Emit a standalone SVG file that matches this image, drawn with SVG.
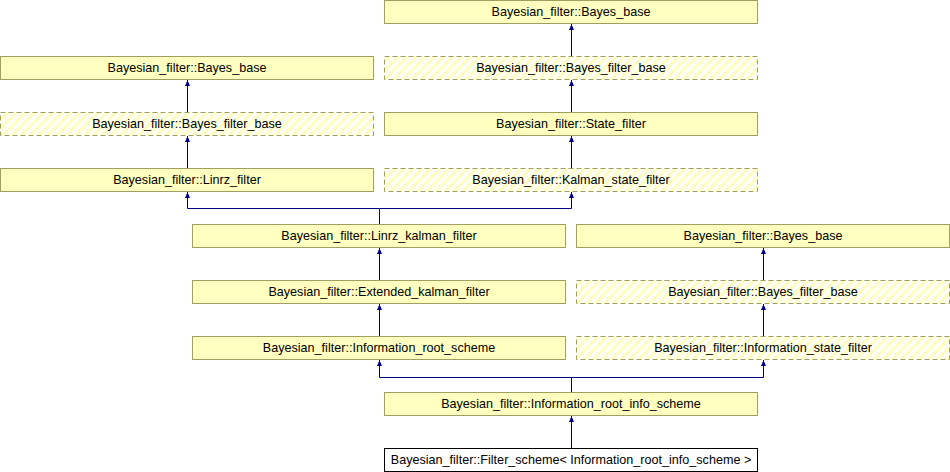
<svg xmlns="http://www.w3.org/2000/svg" width="950" height="472" viewBox="0 0 950 472">
<defs>
<pattern id="hatch" width="6.4" height="6.4" patternUnits="userSpaceOnUse" patternTransform="rotate(45)">
<rect width="6.4" height="6.4" fill="#ffffff"/>
<rect width="3.2" height="6.4" fill="#ffffc0"/>
</pattern>
<marker id="arr" viewBox="0 0 6 5" refX="6" refY="2.5" markerWidth="6" markerHeight="5" orient="auto" markerUnits="userSpaceOnUse">
<path d="M0,0 L6,2.5 L0,5 Z" fill="#000080"/>
</marker>
</defs>
<style>
.n rect{fill:#ffffc0;stroke:#9f9f60;stroke-width:1}
.d rect{fill:url(#hatch);stroke:#9f9f60;stroke-width:1;stroke-dasharray:5,3}
.w rect{fill:#ffffff;stroke:#000000;stroke-width:1}
text{font-family:"Liberation Sans",Arial,sans-serif;font-size:12.6px;fill:#000000;text-anchor:middle}
.c path{fill:none;stroke:#000080;stroke-width:1}
</style>
<rect width="950" height="472" fill="#ffffff"/>
<g id="n_bb_top" class="n"><rect x="384.5" y="0.5" width="373" height="23"/><text x="571" y="16">Bayesian_filter::Bayes_base</text></g>
<g id="n_bb_l2" class="n"><rect x="0.5" y="56.5" width="373" height="23"/><text x="187" y="72">Bayesian_filter::Bayes_base</text></g>
<g id="n_bfb_r2" class="d"><rect x="384.5" y="56.5" width="373" height="23"/><text x="571" y="72">Bayesian_filter::Bayes_filter_base</text></g>
<g id="n_bfb_l3" class="d"><rect x="0.5" y="112.5" width="373" height="23"/><text x="187" y="128">Bayesian_filter::Bayes_filter_base</text></g>
<g id="n_state" class="n"><rect x="384.5" y="112.5" width="373" height="23"/><text x="571" y="128">Bayesian_filter::State_filter</text></g>
<g id="n_linrz" class="n"><rect x="0.5" y="168.5" width="373" height="23"/><text x="187" y="184">Bayesian_filter::Linrz_filter</text></g>
<g id="n_kalman_state" class="d"><rect x="384.5" y="168.5" width="373" height="23"/><text x="571" y="184">Bayesian_filter::Kalman_state_filter</text></g>
<g id="n_linrz_kalman" class="n"><rect x="192.5" y="224.5" width="373" height="23"/><text x="379" y="240">Bayesian_filter::Linrz_kalman_filter</text></g>
<g id="n_bb_r5" class="n"><rect x="576.5" y="224.5" width="373" height="23"/><text x="763" y="240">Bayesian_filter::Bayes_base</text></g>
<g id="n_ekf" class="n"><rect x="192.5" y="280.5" width="373" height="23"/><text x="379" y="296">Bayesian_filter::Extended_kalman_filter</text></g>
<g id="n_bfb_r6" class="d"><rect x="576.5" y="280.5" width="373" height="23"/><text x="763" y="296">Bayesian_filter::Bayes_filter_base</text></g>
<g id="n_irs" class="n"><rect x="192.5" y="336.5" width="373" height="23"/><text x="379" y="352">Bayesian_filter::Information_root_scheme</text></g>
<g id="n_isf" class="d"><rect x="576.5" y="336.5" width="373" height="23"/><text x="763" y="352">Bayesian_filter::Information_state_filter</text></g>
<g id="n_iris" class="n"><rect x="384.5" y="392.5" width="373" height="23"/><text x="571" y="408">Bayesian_filter::Information_root_info_scheme</text></g>
<g id="n_fs" class="w"><rect x="384.5" y="448.5" width="373" height="23"/><text x="571" y="464">Bayesian_filter::Filter_scheme&lt; Information_root_info_scheme &gt;</text></g>
<g id="connectors" class="c">
<path d="M571.5,56 V24" marker-end="url(#arr)"/>
<path d="M571.5,112 V80" marker-end="url(#arr)"/>
<path d="M571.5,168 V136" marker-end="url(#arr)"/>
<path d="M187.5,112 V80" marker-end="url(#arr)"/>
<path d="M187.5,168 V136" marker-end="url(#arr)"/>
<path d="M379.5,224 V208.5 H187.5 V192" marker-end="url(#arr)"/>
<path d="M379.5,208.5 H571.5 V192" marker-end="url(#arr)"/>
<path d="M379.5,280 V248" marker-end="url(#arr)"/>
<path d="M379.5,336 V304" marker-end="url(#arr)"/>
<path d="M763.5,280 V248" marker-end="url(#arr)"/>
<path d="M763.5,336 V304" marker-end="url(#arr)"/>
<path d="M571.5,392 V377.5 H379.5 V360" marker-end="url(#arr)"/>
<path d="M571.5,377.5 H763.5 V360" marker-end="url(#arr)"/>
<path d="M571.5,448 V416" marker-end="url(#arr)"/>
</g>
</svg>
